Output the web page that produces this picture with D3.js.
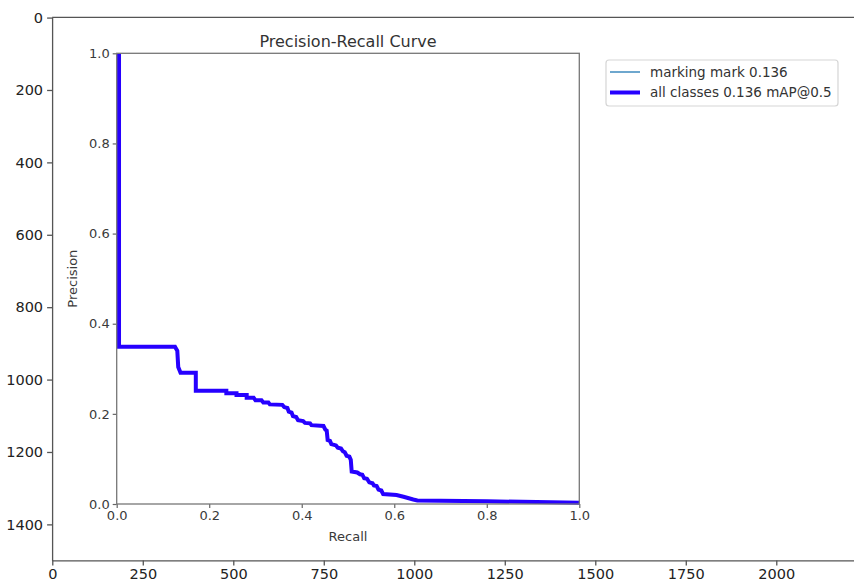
<!DOCTYPE html>
<html>
<head>
<meta charset="utf-8">
<script src="https://cdn.jsdelivr.net/npm/d3@7"></script>
<style>
  html, body { margin: 0; padding: 0; background: #fff; }
  svg { display: block; font-family: "DejaVu Sans", sans-serif; }
</style>
</head>
<body>
<svg id="chart" width="854" height="583"></svg>
<script>
// ---- data ----
const recall = [0.005, 0.005, 0.126, 0.131, 0.133, 0.138, 0.171, 0.171, 0.237, 0.237, 0.259, 0.259,
  0.281, 0.281, 0.296, 0.300, 0.313, 0.317, 0.328, 0.331, 0.358, 0.362, 0.369, 0.372, 0.378, 0.381,
  0.388, 0.392, 0.403, 0.407, 0.418, 0.421, 0.447, 0.451, 0.454, 0.456, 0.461, 0.464, 0.474, 0.478,
  0.485, 0.489, 0.493, 0.497, 0.503, 0.506, 0.508, 0.520, 0.526, 0.531, 0.535, 0.541, 0.546, 0.553,
  0.556, 0.562, 0.566, 0.572, 0.576, 0.605, 0.620, 0.641, 0.650, 0.800, 1.000];
const precision = [1.000, 0.349, 0.349, 0.340, 0.304, 0.291, 0.291, 0.251, 0.251, 0.246, 0.246, 0.242,
  0.242, 0.236, 0.236, 0.230, 0.230, 0.225, 0.225, 0.221, 0.220, 0.215, 0.213, 0.205, 0.203, 0.195,
  0.193, 0.186, 0.184, 0.180, 0.179, 0.175, 0.173, 0.165, 0.163, 0.142, 0.140, 0.133, 0.130, 0.125,
  0.123, 0.117, 0.115, 0.107, 0.105, 0.098, 0.072, 0.070, 0.066, 0.065, 0.057, 0.056, 0.048, 0.046,
  0.041, 0.040, 0.032, 0.030, 0.022, 0.020, 0.016, 0.010, 0.008, 0.006, 0.003];
const classLabels = ["marking mark 0.136", "all classes 0.136 mAP@0.5"];
const innerTicks = [0, 0.2, 0.4, 0.6, 0.8, 1.0];
const outerXTicks = [0, 250, 500, 750, 1000, 1250, 1500, 1750, 2000];
const outerYTicks = [0, 200, 400, 600, 800, 1000, 1200, 1400];
const chartTitle = "Precision-Recall Curve";
const xLabel = "Recall";
const yLabel = "Precision";

// ---- drawing ----
const svg = d3.select("#chart");

// Outer (image-viewer) axes
const k = 0.362;
const ox = d3.scaleLinear().domain([-0.5, 2300]).range([52.1, 52.1 + k * 2300.5]);
const oy = d3.scaleLinear().domain([-0.5, 1499.5]).range([17.4, 17.4 + k * 1500]);

const outer = svg.append("g");
outer.append("g")
  .attr("transform", `translate(0,${oy.range()[1]})`)
  .call(d3.axisBottom(ox).tickValues(outerXTicks).tickFormat(d3.format("d")).tickSize(5).tickSizeOuter(0).tickPadding(3))
  .call(g => g.selectAll("text").attr("font-size", 14.5).attr("fill", "#222").attr("font-family", "DejaVu Sans"));
outer.append("g")
  .attr("transform", `translate(${ox.range()[0]},0)`)
  .call(d3.axisLeft(oy).tickValues(outerYTicks).tickFormat(d3.format("d")).tickSize(5).tickSizeOuter(0).tickPadding(4))
  .call(g => g.selectAll("text").attr("font-size", 14.5).attr("fill", "#222").attr("font-family", "DejaVu Sans"));
outer.selectAll(".domain, .tick line").attr("stroke", "#555").attr("stroke-width", 1.3);
// top spine
outer.append("line")
  .attr("x1", ox.range()[0]).attr("x2", ox.range()[1])
  .attr("y1", oy.range()[0]).attr("y2", oy.range()[0])
  .attr("stroke", "#555").attr("stroke-width", 1.3);

// Inner PR chart
const x = d3.scaleLinear().domain([0, 1]).range([116.7, 579.3]);
const y = d3.scaleLinear().domain([0, 1]).range([504, 53.3]);
const inner = svg.append("g");

const fmt = d3.format(".1f");
inner.append("g")
  .attr("transform", `translate(0,${y(0)})`)
  .call(d3.axisBottom(x).tickValues(innerTicks).tickFormat(fmt).tickSize(4).tickSizeOuter(0).tickPadding(3))
  .call(g => g.selectAll("text").attr("font-size", 13).attr("fill", "#3a3a3a").attr("font-family", "DejaVu Sans"));
inner.append("g")
  .attr("transform", `translate(${x(0)},0)`)
  .call(d3.axisLeft(y).tickValues(innerTicks).tickFormat(fmt).tickSize(4).tickSizeOuter(0).tickPadding(3))
  .call(g => g.selectAll("text").attr("font-size", 13).attr("fill", "#3a3a3a").attr("font-family", "DejaVu Sans"));
inner.selectAll(".domain").remove();
inner.selectAll(".tick line").attr("stroke", "#666").attr("stroke-width", 1.2);

const line = d3.line().x((d, i) => x(recall[i])).y((d, i) => y(precision[i]));
inner.append("path").datum(recall)
  .attr("d", line).attr("fill", "none").attr("stroke", "#1f77b4").attr("stroke-width", 1.3);
inner.append("path").datum(recall)
  .attr("d", line).attr("fill", "none").attr("stroke", "#2600ff").attr("stroke-width", 4)
  .attr("stroke-linejoin", "miter");

// frame
inner.append("rect")
  .attr("x", x(0)).attr("y", y(1))
  .attr("width", x(1) - x(0)).attr("height", y(0) - y(1))
  .attr("fill", "none").attr("stroke", "#777").attr("stroke-width", 1.3);

// title and axis labels
inner.append("text").attr("x", (x(0) + x(1)) / 2).attr("y", 47)
  .attr("text-anchor", "middle").attr("font-size", 16).attr("fill", "#333").text(chartTitle);
inner.append("text").attr("x", (x(0) + x(1)) / 2).attr("y", 541)
  .attr("text-anchor", "middle").attr("font-size", 13).attr("fill", "#3a3a3a").text(xLabel);
inner.append("text")
  .attr("transform", `translate(77,${(y(0) + y(1)) / 2}) rotate(-90)`)
  .attr("text-anchor", "middle").attr("font-size", 13).attr("fill", "#3a3a3a").text(yLabel);

// legend
const lg = inner.append("g");
lg.append("rect").attr("x", 606).attr("y", 60).attr("width", 232).attr("height", 46)
  .attr("rx", 3).attr("fill", "#fff").attr("stroke", "#d5d5d5").attr("stroke-width", 1.2);
const legendStyles = [{ c: "#1f77b4", w: 1.3 }, { c: "#2600ff", w: 4 }];
classLabels.forEach((lab, i) => {
  const yy = 72 + i * 20.5;
  lg.append("line").attr("x1", 610).attr("x2", 640).attr("y1", yy).attr("y2", yy)
    .attr("stroke", legendStyles[i].c).attr("stroke-width", legendStyles[i].w);
  lg.append("text").attr("x", 650).attr("y", yy).attr("dy", "0.35em")
    .attr("font-size", 13.5).attr("fill", "#333").text(lab);
});
</script>
</body>
</html>
